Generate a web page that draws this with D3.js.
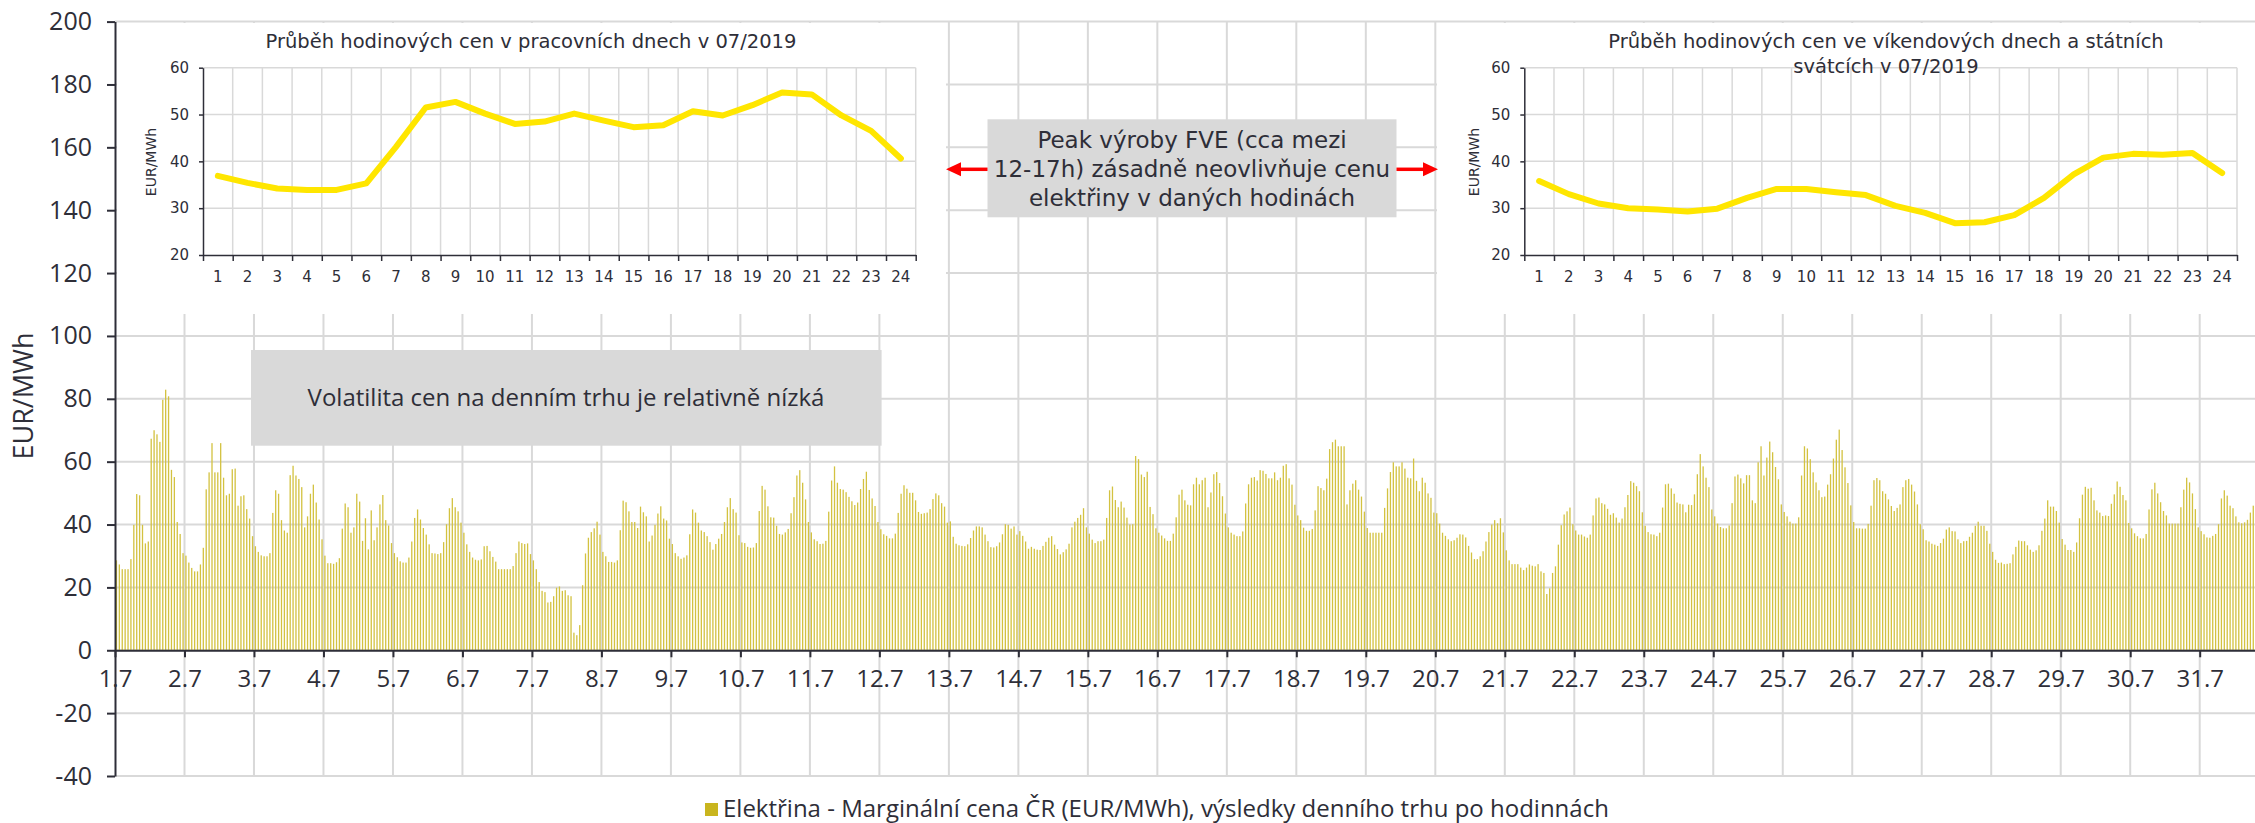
<!DOCTYPE html>
<html>
<head>
<meta charset="utf-8">
<script src="https://cdn.jsdelivr.net/npm/d3@7/dist/d3.min.js"></script>
<style>
  body { margin: 0; background: #fff; }
  svg { display: block; }
</style>
</head>
<body>
<svg id="chart" width="2255" height="823"></svg>
<script>
// Day-ahead marginal price CZ, EUR/MWh, 24 hours per row (July 2019)
const week1 = [
    [28.6, 27.3, 25.8, 25.8, 25.8, 29.0, 39.9, 49.7, 49.3, 39.9, 34.0, 34.6, 67.3, 70.0, 68.7, 66.3, 79.7, 82.9, 80.8, 57.4, 55.1, 40.8, 37.0, 30.9],
    [30.1, 27.9, 26.2, 25.1, 25.1, 27.3, 32.6, 51.2, 56.6, 65.9, 56.6, 56.6, 65.9, 54.9, 49.3, 49.8, 57.6, 57.8, 46.0, 49.0, 49.3, 44.9, 41.9, 36.3],
    [33.1, 31.3, 30.2, 29.9, 29.9, 30.9, 43.7, 50.9, 49.8, 41.4, 38.1, 37.4, 55.7, 58.7, 55.6, 54.5, 51.9, 39.1, 42.6, 49.8, 52.7, 47.0, 41.6, 35.3],
    [30.1, 27.7, 27.7, 27.5, 28.0, 29.3, 38.7, 46.7, 45.5, 37.4, 39.1, 49.8, 47.3, 34.8, 42.0, 32.1, 44.5, 35.0, 39.1, 46.4, 49.4, 41.4, 39.7, 34.1],
    [30.9, 29.6, 28.3, 27.9, 27.9, 29.5, 34.6, 42.1, 44.8, 41.6, 38.9, 36.8, 33.7, 30.9, 30.8, 30.6, 30.9, 34.4, 40.1, 45.2, 48.4, 45.5, 44.2, 40.6],
    [37.4, 33.7, 31.3, 29.5, 28.8, 28.6, 28.9, 33.1, 33.2, 31.5, 29.7, 28.2, 25.8, 25.8, 25.8, 25.8, 25.8, 26.8, 30.9, 34.6, 34.1, 33.8, 34.0, 30.6],
    [28.6, 25.8, 21.7, 18.9, 18.5, 15.2, 15.4, 17.2, 19.9, 20.3, 18.9, 19.1, 17.5, 17.2, 5.6, 4.8, 8.0, 20.7, 30.8, 35.8, 37.6, 38.8, 40.9, 36.8]
];
const week2 = [
    [31.3, 29.9, 28.1, 28.1, 27.9, 28.6, 38.2, 47.6, 47.1, 44.2, 40.8, 40.8, 38.9, 45.7, 43.9, 42.6, 34.6, 36.5, 39.9, 43.5, 45.8, 41.9, 41.3, 35.5],
    [33.8, 30.9, 29.9, 29.1, 29.5, 30.2, 36.9, 44.8, 43.8, 40.6, 38.1, 37.6, 36.3, 34.4, 32.0, 33.8, 35.5, 37.0, 40.8, 45.5, 48.4, 44.9, 43.8, 36.6],
    [34.3, 34.1, 32.9, 32.6, 32.7, 34.1, 44.3, 52.3, 51.1, 45.8, 42.3, 42.2, 39.6, 37.0, 36.8, 37.5, 38.6, 43.6, 48.7, 55.6, 57.3, 53.3, 48.0, 40.8],
    [37.5, 35.3, 34.7, 33.8, 33.9, 34.8, 44.1, 54.0, 58.5, 53.3, 51.3, 51.1, 50.3, 48.8, 47.4, 46.2, 47.0, 51.3, 54.5, 56.8, 51.0, 48.3, 45.9, 40.8],
    [38.5, 36.9, 36.4, 35.6, 35.6, 37.1, 43.7, 49.8, 52.5, 51.4, 50.1, 50.1, 47.7, 44.0, 43.4, 43.6, 43.8, 44.9, 48.1, 49.9, 49.3, 46.8, 45.7, 40.6],
    [41.0, 36.1, 33.9, 33.4, 33.2, 33.1, 33.7, 35.7, 38.1, 39.4, 39.4, 39.1, 36.8, 34.7, 32.8, 32.7, 33.1, 34.3, 36.9, 40.1, 39.9, 38.7, 39.4, 36.8],
    [37.9, 36.4, 34.6, 32.3, 32.9, 32.3, 32.0, 31.9, 33.2, 34.5, 35.8, 36.3, 33.6, 32.2, 30.5, 31.2, 32.1, 33.9, 39.1, 40.9, 42.1, 43.1, 45.2, 39.1]
];
const week3 = [
    [37.1, 35.2, 34.1, 34.7, 34.7, 35.2, 42.1, 50.9, 52.1, 47.8, 45.5, 47.3, 45.4, 42.2, 40.0, 40.1, 61.8, 60.8, 55.9, 55.1, 56.8, 45.6, 43.3, 38.8],
    [37.4, 36.5, 35.6, 34.8, 34.8, 37.1, 42.3, 49.5, 51.1, 47.7, 46.3, 46.1, 52.8, 54.9, 52.8, 54.1, 54.9, 45.5, 50.2, 56.0, 56.7, 53.2, 49.0, 43.5],
    [39.1, 37.4, 36.8, 36.3, 36.3, 37.8, 46.7, 52.8, 54.9, 55.1, 54.0, 57.3, 57.1, 56.1, 54.7, 54.7, 56.6, 54.1, 54.9, 58.7, 59.2, 54.7, 52.7, 46.3],
    [42.9, 41.4, 39.0, 38.0, 38.0, 38.6, 44.5, 52.2, 51.6, 50.9, 54.6, 64.0, 66.2, 67.0, 64.9, 64.9, 64.9, 46.4, 50.9, 53.0, 54.1, 51.1, 48.9, 44.1],
    [38.9, 37.4, 37.4, 37.4, 37.4, 37.4, 45.3, 51.5, 56.7, 59.8, 58.5, 58.5, 59.8, 57.8, 54.9, 54.7, 61.0, 53.9, 50.6, 54.9, 53.3, 49.9, 48.5, 43.8],
    [43.6, 40.3, 37.4, 36.4, 35.3, 34.7, 35.0, 35.8, 36.9, 36.8, 35.9, 33.2, 31.1, 29.0, 29.0, 29.9, 31.5, 34.6, 37.6, 40.0, 41.4, 40.4, 42.0, 37.5],
    [31.8, 28.6, 27.4, 27.4, 27.4, 26.3, 25.5, 26.3, 27.3, 26.9, 26.7, 27.4, 25.1, 24.6, 17.9, 19.7, 24.6, 26.7, 33.6, 39.8, 43.2, 44.2, 45.4, 40.1]
];
const week4 = [
    [38.1, 36.8, 36.8, 36.2, 35.8, 36.8, 42.9, 48.3, 48.6, 46.8, 46.4, 45.0, 43.1, 43.6, 42.2, 40.6, 41.9, 45.5, 49.4, 53.8, 53.3, 52.2, 50.6, 43.9],
    [39.6, 37.6, 36.9, 36.8, 36.3, 37.4, 45.4, 52.8, 53.0, 51.5, 49.8, 47.0, 46.6, 46.4, 43.9, 46.3, 46.2, 49.6, 56.0, 62.4, 58.5, 54.9, 51.9, 44.8],
    [42.6, 40.3, 39.2, 38.8, 38.8, 39.7, 46.8, 55.3, 55.9, 54.7, 53.1, 55.7, 55.7, 47.7, 46.8, 59.8, 64.9, 55.6, 61.3, 66.4, 63.0, 58.3, 54.4, 46.4],
    [44.0, 42.6, 40.9, 40.3, 40.3, 42.3, 55.6, 64.9, 64.2, 60.8, 56.6, 53.4, 50.9, 48.7, 48.9, 52.7, 56.0, 61.0, 67.0, 70.2, 63.7, 58.2, 53.2, 46.1],
    [40.8, 38.8, 38.8, 38.7, 38.7, 40.2, 46.0, 54.1, 54.8, 54.1, 50.6, 49.8, 48.0, 45.9, 44.3, 45.3, 46.4, 51.9, 54.1, 54.5, 52.7, 50.5, 46.4, 40.1],
    [38.5, 35.0, 34.6, 33.9, 33.6, 33.2, 34.1, 35.5, 38.4, 39.1, 37.9, 37.8, 35.3, 34.1, 34.7, 34.8, 36.1, 37.4, 39.6, 40.9, 39.6, 39.6, 38.0, 33.9],
    [31.3, 28.8, 27.8, 27.9, 27.4, 27.5, 27.7, 30.5, 32.9, 34.9, 34.7, 34.7, 33.4, 32.0, 31.3, 31.8, 33.4, 38.0, 41.9, 47.7, 45.7, 45.7, 44.3, 40.6]
];
// last hours of 31.7 fall outside the picture
const week5 = [
    [35.4, 33.6, 31.9, 31.9, 31.3, 34.3, 42.0, 49.5, 52.0, 51.4, 51.7, 47.7, 44.5, 43.8, 42.7, 42.9, 42.7, 46.6, 49.6, 53.7, 52.0, 49.4, 47.7, 40.5],
    [38.8, 37.2, 36.3, 35.6, 35.6, 37.0, 44.8, 51.2, 53.3, 49.9, 47.1, 44.3, 42.9, 40.3, 40.3, 40.3, 40.3, 45.5, 51.1, 54.9, 53.4, 49.9, 44.9, 39.1],
    [37.9, 36.9, 35.9, 35.8, 36.4, 37.0, 40.1, 48.3, 50.9, 49.2, 46.0, 45.2, 42.6, 40.7, 40.4, 40.7, 41.5, 43.8, 46.0]
];

// average hourly profiles for the insets
const hourLabels = d3.range(1, 25).map(String);
const workdayProfile = [36.9, 35.4, 34.2, 33.9, 33.9, 35.3, 43.1, 51.5, 52.7, 50.2, 48.0, 48.5, 50.2, 48.7, 47.3, 47.7, 50.7, 49.8, 52.0, 54.7, 54.3, 49.8, 46.5, 40.6];
const weekendProfile = [35.8, 33.0, 31.0, 30.0, 29.7, 29.3, 29.9, 32.2, 34.1, 34.1, 33.4, 32.8, 30.5, 29.0, 26.8, 27.0, 28.5, 32.2, 37.2, 40.8, 41.6, 41.4, 41.8, 37.5];

const dayLabels = d3.range(1, 32).map(d => `${d}.7`);
const yTicks = d3.range(-40, 201, 20);
const insetTicks = [20, 30, 40, 50, 60];

const legendLabel = 'Elektřina - Marginální cena ČR (EUR/MWh), výsledky denního trhu po hodinnách';
const workdayTitle = ['Průběh hodinových cen v pracovních dnech v 07/2019'];
const weekendTitle = ['Průběh hodinových cen ve víkendových dnech a státních', 'svátcích v 07/2019'];
const peakNote = ['Peak výroby FVE (cca mezi', '12-17h) zásadně neovlivňuje cenu', 'elektřiny v daných hodinách'];
const volatilityNote = 'Volatilita cen na denním trhu je relativně nízká';

const TEXT = '#2e2e38';
const GRID = '#d9d9d9';
const BAR = '#d3c240';
const MAIN_FONT = "'Open Sans', sans-serif";
const INSET_FONT = "'DejaVu Sans', sans-serif";

const svg = d3.select('#chart');
const prices = [week1, week2, week3, week4, week5].flat(2);

const x = d3.scaleLinear().domain([0, 31 * 24]).range([115, 115 + 31 * 69.49]);
const y = d3.scaleLinear().domain([-40, 200]).range([776, 21.6]);

// gridlines
const grid = svg.append('g');
grid.selectAll('line.h').data(yTicks).join('line')
    .attr('x1', 115).attr('x2', 2255)
    .attr('y1', d => y(d)).attr('y2', d => y(d))
    .attr('stroke', GRID).attr('stroke-width', 2);
grid.selectAll('line.v').data(d3.range(1, 32)).join('line')
    .attr('x1', d => x(d * 24)).attr('x2', d => x(d * 24))
    .attr('y1', y(200)).attr('y2', y(-40))
    .attr('stroke', GRID).attr('stroke-width', 2);

// hourly bars
svg.append('g').selectAll('rect').data(prices).join('rect')
    .attr('x', (d, i) => x(i + 0.5) - 0.65)
    .attr('width', 1.3)
    .attr('y', d => y(d))
    .attr('height', d => y(0) - y(d))
    .attr('fill', BAR);

// white panels behind the two insets
svg.append('rect').attr('x', 117).attr('y', 23).attr('width', 829).attr('height', 291).attr('fill', '#fff');
svg.append('rect').attr('x', 1437).attr('y', 23).attr('width', 818).attr('height', 291).attr('fill', '#fff');

// axes
const yAxis = svg.append('g')
    .attr('transform', 'translate(115,0)')
    .call(d3.axisLeft(y).tickValues(yTicks).tickFormat(d => `${d}`)
        .tickSize(8).tickPadding(15).tickSizeOuter(0));
const xAxis = svg.append('g')
    .attr('transform', `translate(0,${y(0)})`)
    .call(d3.axisBottom(x).tickValues(d3.range(0, 31 * 24, 24)).tickFormat((d, i) => dayLabels[i])
        .tickSize(7).tickPadding(13).tickSizeOuter(0));
yAxis.attr('font-size', 25);
xAxis.attr('font-size', 24);
[yAxis, xAxis].forEach(a => {
    a.attr('color', TEXT).attr('font-family', MAIN_FONT);
    a.selectAll('path, line').attr('stroke-width', 2);
});

svg.append('text')
    .attr('transform', 'translate(24,396) rotate(-90)')
    .attr('text-anchor', 'middle').attr('dy', '0.35em')
    .attr('font-family', MAIN_FONT).attr('font-size', 27).attr('fill', TEXT)
    .text('EUR/MWh');

// legend
svg.append('rect').attr('x', 705).attr('y', 803).attr('width', 13).attr('height', 13).attr('fill', '#c9b51e');
svg.append('text').attr('x', 723).attr('y', 817)
    .attr('font-family', MAIN_FONT).attr('font-size', 24).attr('fill', TEXT)
    .text(legendLabel);

function drawInset(opts) {
    const g = svg.append('g');
    const ix = d3.scaleLinear().domain([0, 24]).range([opts.left, opts.left + 712.7]);
    const iy = d3.scaleLinear().domain([20, 60]).range([255, 67.7]);

    g.selectAll('line.v').data(d3.range(1, 25)).join('line')
        .attr('x1', d => ix(d)).attr('x2', d => ix(d))
        .attr('y1', iy(60)).attr('y2', iy(20))
        .attr('stroke', GRID).attr('stroke-width', 1.5);
    g.selectAll('line.h').data(insetTicks.slice(1)).join('line')
        .attr('x1', ix(0)).attr('x2', ix(24))
        .attr('y1', d => iy(d)).attr('y2', d => iy(d))
        .attr('stroke', GRID).attr('stroke-width', 1.5);

    const ya = g.append('g').attr('transform', `translate(${opts.left},0)`)
        .call(d3.axisLeft(iy).tickValues(insetTicks).tickSize(4).tickPadding(10).tickSizeOuter(0));
    const xa = g.append('g').attr('transform', `translate(0,${iy(20)})`)
        .call(d3.axisBottom(ix).tickValues(d3.range(0, 25)).tickFormat('').tickSize(6).tickSizeOuter(0));
    [ya, xa].forEach(a => {
        a.attr('color', TEXT).attr('font-family', INSET_FONT).attr('font-size', 15);
        a.selectAll('path, line').attr('stroke-width', 1.5);
    });

    g.selectAll('text.hour').data(hourLabels).join('text')
        .attr('x', (d, i) => ix(i + 0.5)).attr('y', 281.5)
        .attr('text-anchor', 'middle')
        .attr('font-family', INSET_FONT).attr('font-size', 15).attr('fill', TEXT)
        .text(d => d);

    g.append('text')
        .attr('transform', `translate(${opts.axisTitleX},162) rotate(-90)`)
        .attr('text-anchor', 'middle').attr('dy', '0.35em')
        .attr('font-family', INSET_FONT).attr('font-size', 14).attr('fill', TEXT)
        .text('EUR/MWh');

    g.selectAll('text.title').data(opts.title).join('text')
        .attr('x', opts.titleX).attr('y', (d, i) => 48.3 + i * 25)
        .attr('text-anchor', 'middle')
        .attr('font-family', INSET_FONT).attr('font-size', 19.5).attr('fill', TEXT)
        .text(d => d);

    g.append('path').datum(opts.values)
        .attr('d', d3.line().x((d, i) => ix(i + 0.5)).y(d => iy(d)))
        .attr('fill', 'none').attr('stroke', '#ffe600').attr('stroke-width', 6)
        .attr('stroke-linejoin', 'round').attr('stroke-linecap', 'round');
}

drawInset({ left: 203, values: workdayProfile, title: workdayTitle, titleX: 531, axisTitleX: 151.5 });
drawInset({ left: 1524.3, values: weekendProfile, title: weekendTitle, titleX: 1886, axisTitleX: 1473.6 });

// annotation: solar peak, with arrows pointing at both insets
const note = svg.append('g');
note.append('rect').attr('x', 987.5).attr('y', 119.3).attr('width', 409).attr('height', 98).attr('fill', '#d9d9d9');
note.selectAll('text').data(peakNote).join('text')
    .attr('x', 1192).attr('y', (d, i) => 148.3 + i * 29)
    .attr('text-anchor', 'middle')
    .attr('font-family', INSET_FONT).attr('font-size', 23).attr('fill', TEXT)
    .text(d => d);
const arrowY = 169.3;
note.append('line').attr('x1', 987.5).attr('x2', 958).attr('y1', arrowY).attr('y2', arrowY)
    .attr('stroke', '#ff0000').attr('stroke-width', 3.5);
note.append('path').attr('d', `M946,${arrowY} L961,${arrowY - 7} L961,${arrowY + 7} Z`).attr('fill', '#ff0000');
note.append('line').attr('x1', 1396.5).attr('x2', 1426).attr('y1', arrowY).attr('y2', arrowY)
    .attr('stroke', '#ff0000').attr('stroke-width', 3.5);
note.append('path').attr('d', `M1438,${arrowY} L1423,${arrowY - 7} L1423,${arrowY + 7} Z`).attr('fill', '#ff0000');

// annotation: low volatility
svg.append('rect').attr('x', 251).attr('y', 350).attr('width', 630.6).attr('height', 95.7).attr('fill', '#d9d9d9');
svg.append('text').attr('x', 566).attr('y', 406)
    .attr('text-anchor', 'middle')
    .attr('font-family', MAIN_FONT).attr('font-size', 24).attr('fill', TEXT)
    .text(volatilityNote);
</script>
</body>
</html>
